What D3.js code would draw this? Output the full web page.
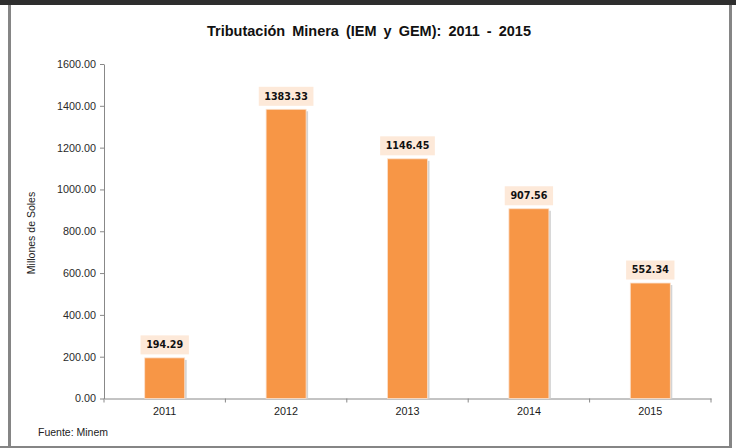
<!DOCTYPE html>
<html>
<head>
<meta charset="utf-8">
<script src="https://cdn.jsdelivr.net/npm/d3@7"></script>
<style>
  body { margin: 0; background: #fff; }
  svg { display: block; }
</style>
</head>
<body>
<div id="chart"></div>
<script>
// data
let years = ["2011", "2012", "2013", "2014", "2015"]
let values = [194.29, 1383.33, 1146.45, 907.56, 552.34]
let yTicks = [0, 200, 400, 600, 800, 1000, 1200, 1400, 1600]

let W = 736, H = 448
let margin = {top: 64, right: 25, bottom: 49, left: 104}
let width = 711 - margin.left
let height = 398.5 - margin.top

let svg = d3.select("#chart").append("svg")
    .attr("width", W)
    .attr("height", H)

// frame
svg.append("rect").attr("x", 0).attr("y", 0).attr("width", W).attr("height", 5).attr("fill", "#2e2e2e")
svg.append("rect").attr("x", 8).attr("y", 5).attr("width", 3).attr("height", H - 5).attr("fill", "#858585")
svg.append("rect").attr("x", 729).attr("y", 5).attr("width", 3).attr("height", H - 5).attr("fill", "#858585")
svg.append("rect").attr("x", 0).attr("y", 446).attr("width", 732).attr("height", 2).attr("fill", "#858585")

// title
svg.append("text")
    .attr("x", 369)
    .attr("y", 36)
    .attr("text-anchor", "middle")
    .style("font-family", "'Liberation Sans', Arial, sans-serif")
    .style("font-weight", "bold")
    .style("font-size", "14.5px")
    .style("word-spacing", "3px")
    .attr("fill", "#111")
    .text("Tributación Minera (IEM y GEM): 2011 - 2015")

let g = svg.append("g")
    .attr("transform", `translate(${margin.left}, ${margin.top})`)

let x = d3.scaleBand().domain(years).range([0, width]).paddingInner(0).paddingOuter(0)
let y = d3.scaleLinear().domain([0, 1600]).range([height, 0])

// y axis
let yAxis = g.append("g")
    .call(d3.axisLeft(y).tickValues(yTicks).tickFormat(d3.format(".2f")).tickSize(4).tickSizeOuter(0))
yAxis.select(".domain").attr("stroke", "#888")
yAxis.selectAll(".tick line").attr("stroke", "#888")
yAxis.selectAll(".tick text")
    .attr("x", -8)
    .attr("fill", "#2a2a2a")
    .style("font-family", "'Liberation Sans', Arial, sans-serif")
    .style("font-size", "10.8px")

// x axis, ticks on category boundaries
let xAxis = g.append("g")
    .attr("transform", `translate(0, ${height})`)
    .call(d3.axisBottom(x).tickSize(0).tickSizeOuter(0))
xAxis.select(".domain").attr("stroke", "#888")
xAxis.selectAll(".tick text")
    .attr("y", 9)
    .attr("fill", "#1a1a1a")
    .style("font-family", "'Liberation Sans', Arial, sans-serif")
    .style("font-size", "10.8px")
let bounds = years.map(d => x(d)).concat([width])
g.selectAll(".xtick")
    .data(bounds)
    .enter().append("line")
    .attr("class", "xtick")
    .attr("x1", d => d).attr("x2", d => d)
    .attr("y1", height).attr("y2", height + 4)
    .attr("stroke", "#888")

let barW = 40
let bw = x.bandwidth()

// shadows
g.selectAll(".shadow")
    .data(values)
    .enter().append("rect")
    .attr("class", "shadow")
    .attr("x", (d, i) => x(years[i]) + bw / 2 - barW / 2 + 2)
    .attr("y", d => y(d) + 2)
    .attr("width", barW)
    .attr("height", d => height - y(d) - 2)
    .attr("fill", "#d4d4d4")

// bars
g.selectAll(".bar")
    .data(values)
    .enter().append("rect")
    .attr("class", "bar")
    .attr("x", (d, i) => x(years[i]) + bw / 2 - barW / 2)
    .attr("y", d => y(d))
    .attr("width", barW)
    .attr("height", d => height - y(d))
    .attr("fill", "#F79646")
    .attr("stroke", "#fbe0cc")
    .attr("stroke-width", 0.8)

// value labels with boxes
let labels = g.selectAll(".lbl")
    .data(values)
    .enter().append("g")
    .attr("class", "lbl")
    .attr("transform", (d, i) => `translate(${x(years[i]) + bw / 2}, ${y(d) - 13})`)

labels.append("rect")
    .attr("fill", "#FDE9D9")

labels.append("text")
    .attr("text-anchor", "middle")
    .attr("dy", "0.35em")
    .attr("fill", "#111")
    .style("font-family", "'DejaVu Sans', Verdana, sans-serif")
    .style("font-weight", "bold")
    .style("font-size", "9.6px")
    .text(d => d3.format(".2f")(d))

labels.each(function () {
    let t = d3.select(this).select("text").node().getBBox()
    d3.select(this).select("rect")
        .attr("x", -t.width / 2 - 5.5)
        .attr("y", -9.5)
        .attr("width", t.width + 11)
        .attr("height", 19)
})

// y axis title
svg.append("text")
    .attr("transform", "translate(35, 233) rotate(-90)")
    .attr("text-anchor", "middle")
    .attr("fill", "#222")
    .style("font-family", "'Liberation Sans', Arial, sans-serif")
    .style("font-size", "10.5px")
    .text("Millones de Soles")

// source
svg.append("text")
    .attr("x", 38)
    .attr("y", 436)
    .attr("fill", "#222")
    .style("font-family", "'Liberation Sans', Arial, sans-serif")
    .style("font-size", "10.5px")
    .text("Fuente: Minem")
</script>
</body>
</html>
